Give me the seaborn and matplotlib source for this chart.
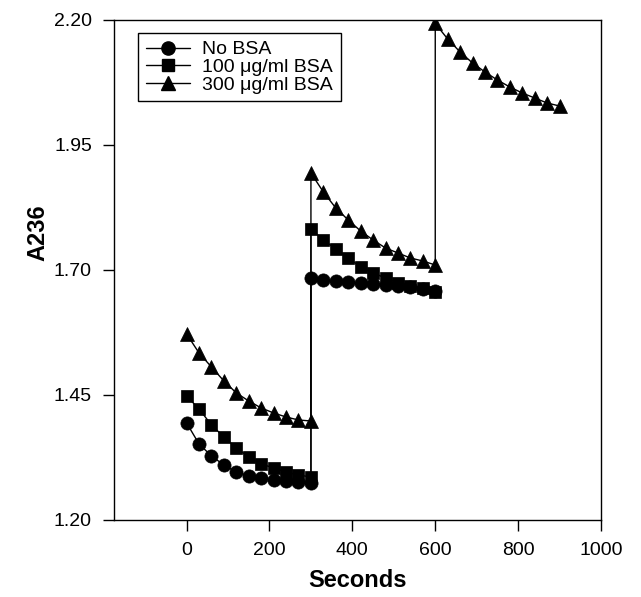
import pandas as pd
import seaborn as sns
import matplotlib.pyplot as plt
from matplotlib.lines import Line2D

# time points (s)
seconds_1 = [0, 30, 60, 90, 120, 150, 180, 210, 240, 270, 300]
seconds_2 = [300, 330, 360, 390, 420, 450, 480, 510, 540, 570, 600]
seconds_3 = [600, 630, 660, 690, 720, 750, 780, 810, 840, 870, 900]

# A236 readings
no_bsa = [1.394, 1.352, 1.328, 1.310, 1.296, 1.288, 1.284, 1.280, 1.278, 1.276, 1.274,
          1.684, 1.680, 1.678, 1.676, 1.674, 1.672, 1.670, 1.668, 1.666, 1.662, 1.658]
bsa_100 = [1.448, 1.422, 1.390, 1.366, 1.344, 1.326, 1.312, 1.304, 1.296, 1.290, 1.286,
           1.782, 1.760, 1.742, 1.724, 1.706, 1.694, 1.684, 1.674, 1.668, 1.664, 1.656]
bsa_300 = [1.572, 1.534, 1.506, 1.478, 1.454, 1.438, 1.424, 1.414, 1.406, 1.400, 1.398,
           1.894, 1.856, 1.824, 1.800, 1.778, 1.760, 1.744, 1.734, 1.724, 1.718, 1.710,
           2.193, 2.162, 2.136, 2.114, 2.096, 2.080, 2.066, 2.054, 2.044, 2.034, 2.028]

labels = ['No BSA', '100 \u03bcg/ml BSA', '300 \u03bcg/ml BSA']

rows = []
for lab, vals, secs in [(labels[0], no_bsa, seconds_1 + seconds_2),
                        (labels[1], bsa_100, seconds_1 + seconds_2),
                        (labels[2], bsa_300, seconds_1 + seconds_2 + seconds_3)]:
    for s, v in zip(secs, vals):
        rows.append({'Seconds': s, 'A236': v, 'series': lab})
df = pd.DataFrame(rows)

sns.set_style('ticks')
plt.rcParams['font.family'] = ['Liberation Sans', 'DejaVu Sans']
plt.rcParams['text.color'] = 'black'
plt.rcParams['axes.labelcolor'] = 'black'

fig = plt.figure(figsize=(6.41, 5.97), dpi=100)
ax = fig.add_axes([0.178, 0.129, 0.7596, 0.8375])

markers = {labels[0]: 'o', labels[1]: 's', labels[2]: '^'}
msizes = {labels[0]: 9.5, labels[1]: 8.5, labels[2]: 10}
for lab in labels:
    sub = df[df['series'] == lab]
    sns.lineplot(data=sub, x='Seconds', y='A236', estimator=None, sort=False,
                 color='black', linewidth=1, marker=markers[lab],
                 markersize=msizes[lab], markeredgecolor='black',
                 markeredgewidth=0.5, ax=ax, legend=False)

ax.set_xlim(-175, 1000)
ax.set_ylim(1.20, 2.20)
ax.set_xticks([0, 200, 400, 600, 800, 1000])
ax.set_yticks([1.20, 1.45, 1.70, 1.95, 2.20])
ax.set_yticklabels(['1.20', '1.45', '1.70', '1.95', '2.20'])
ax.tick_params(direction='out', length=8, width=1, labelsize=14,
               colors='black', labelcolor='black')
ax.tick_params(axis='x', pad=8)
ax.tick_params(axis='y', pad=8)
for sp in ax.spines.values():
    sp.set_visible(True)
    sp.set_linewidth(1)
    sp.set_color('black')

ax.set_xlabel('Seconds', fontsize=17, fontweight='bold', labelpad=7)
ax.set_ylabel('A236', fontsize=17, fontweight='bold')
ax.yaxis.set_label_coords(-0.133, 0.574)

handles = [Line2D([], [], color='black', linewidth=1, marker=markers[l],
                  markersize=msizes[l], markeredgecolor='black') for l in labels]
leg = ax.legend(handles, labels, loc='upper left', bbox_to_anchor=(0.049, 0.974),
                frameon=True, fancybox=False, framealpha=1, edgecolor='black',
                fontsize=14, handlelength=2.3, handletextpad=0.6,
                labelspacing=0.0, borderpad=0.4, borderaxespad=0)
leg.get_frame().set_linewidth(1)

fig.savefig('out.png', dpi=100)
